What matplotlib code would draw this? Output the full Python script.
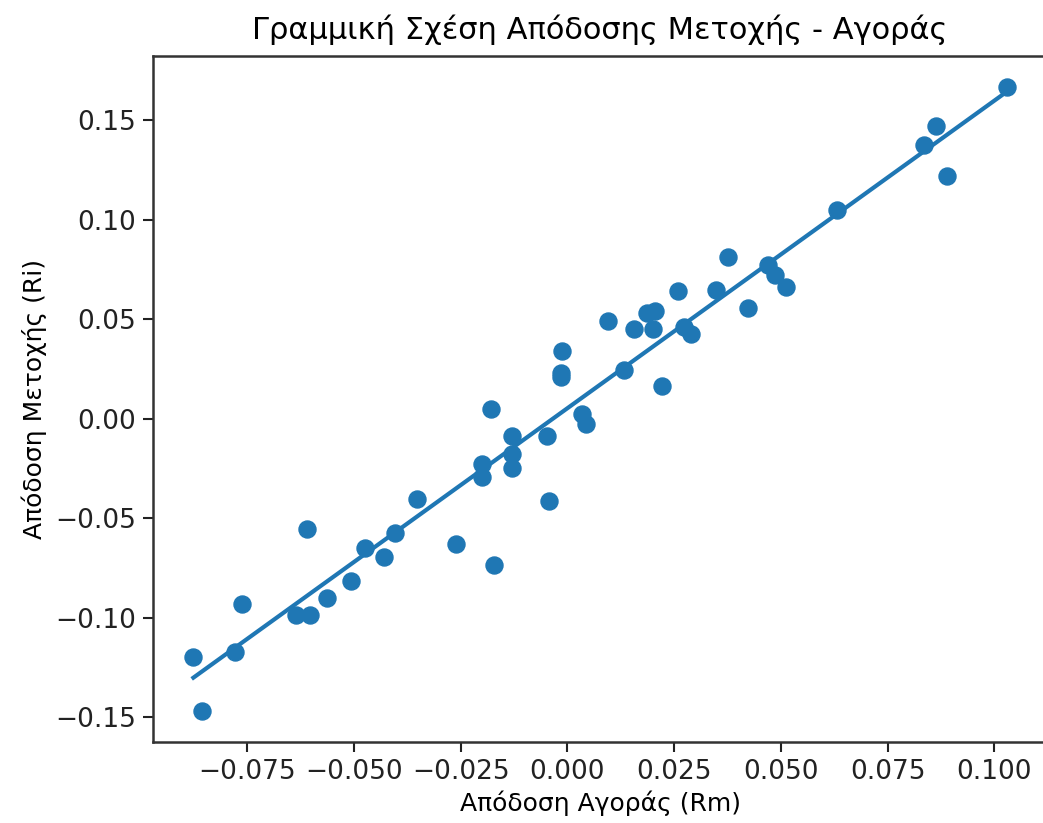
import numpy as np
import matplotlib.pyplot as plt

# market returns (Rm) and stock returns (Ri)
rm = [-0.0876, -0.0855, -0.0778, -0.0762, -0.0635, -0.0604, -0.0609, -0.0563,
      -0.0508, -0.0474, -0.0429, -0.0403, -0.0352, -0.0260, -0.0171, -0.0200,
      -0.0200, -0.0179, -0.0129, -0.0129, -0.0129, -0.0048, -0.0044, -0.0012,
      -0.0014, -0.0014, 0.0034, 0.0044, 0.0095, 0.0133, 0.0157, 0.0187,
      0.0206, 0.0200, 0.0221, 0.0260, 0.0272, 0.0290, 0.0349, 0.0375,
      0.0424, 0.0470, 0.0485, 0.0513, 0.0632, 0.0834, 0.0864, 0.0890, 0.1029]
ri = [-0.1200, -0.1470, -0.1175, -0.0930, -0.0985, -0.0985, -0.0555, -0.0900,
      -0.0815, -0.0650, -0.0695, -0.0575, -0.0405, -0.0630, -0.0735, -0.0230,
      -0.0295, 0.0050, -0.0090, -0.0180, -0.0250, -0.0090, -0.0415, 0.0340,
      0.0230, 0.0210, 0.0025, -0.0025, 0.0490, 0.0245, 0.0450, 0.0530,
      0.0540, 0.0450, 0.0165, 0.0640, 0.0460, 0.0425, 0.0645, 0.0810,
      0.0555, 0.0770, 0.0720, 0.0660, 0.1050, 0.1375, 0.1470, 0.1220, 0.1665]

rm = np.array(rm)
ri = np.array(ri)
beta, alpha = np.polyfit(rm, ri, 1)

fig, ax = plt.subplots(figsize=(10.43, 8.23), dpi=100)
# the reference is cropped a little on the right, so the axes run past the edge
fig.subplots_adjust(left=0.1464, right=1.0043, top=0.932, bottom=0.098)

ax.scatter(rm, ri, s=150, color='#1f77b4', zorder=3)
xs = np.array([rm.min(), rm.max()])
ax.plot(xs, alpha + beta * xs, color='#1f77b4', linewidth=3)

ax.set_xticks([-0.075, -0.05, -0.025, 0.0, 0.025, 0.05, 0.075, 0.1])
ax.set_yticks([-0.15, -0.10, -0.05, 0.0, 0.05, 0.10, 0.15])
ax.tick_params(labelsize=19, length=7, width=1.5, colors='#222222', pad=5)
for s in ax.spines.values():
    s.set_linewidth(1.8)
    s.set_color('#333333')

ax.set_title('Γραμμική Σχέση Απόδοσης Μετοχής - Αγοράς', fontsize=22, pad=12)
ax.set_xlabel('Απόδοση Αγοράς (Rm)', fontsize=18, labelpad=4)
ax.set_ylabel('Απόδοση Μετοχής (Ri)', fontsize=18, labelpad=6)

plt.savefig('out.png', dpi=100)
